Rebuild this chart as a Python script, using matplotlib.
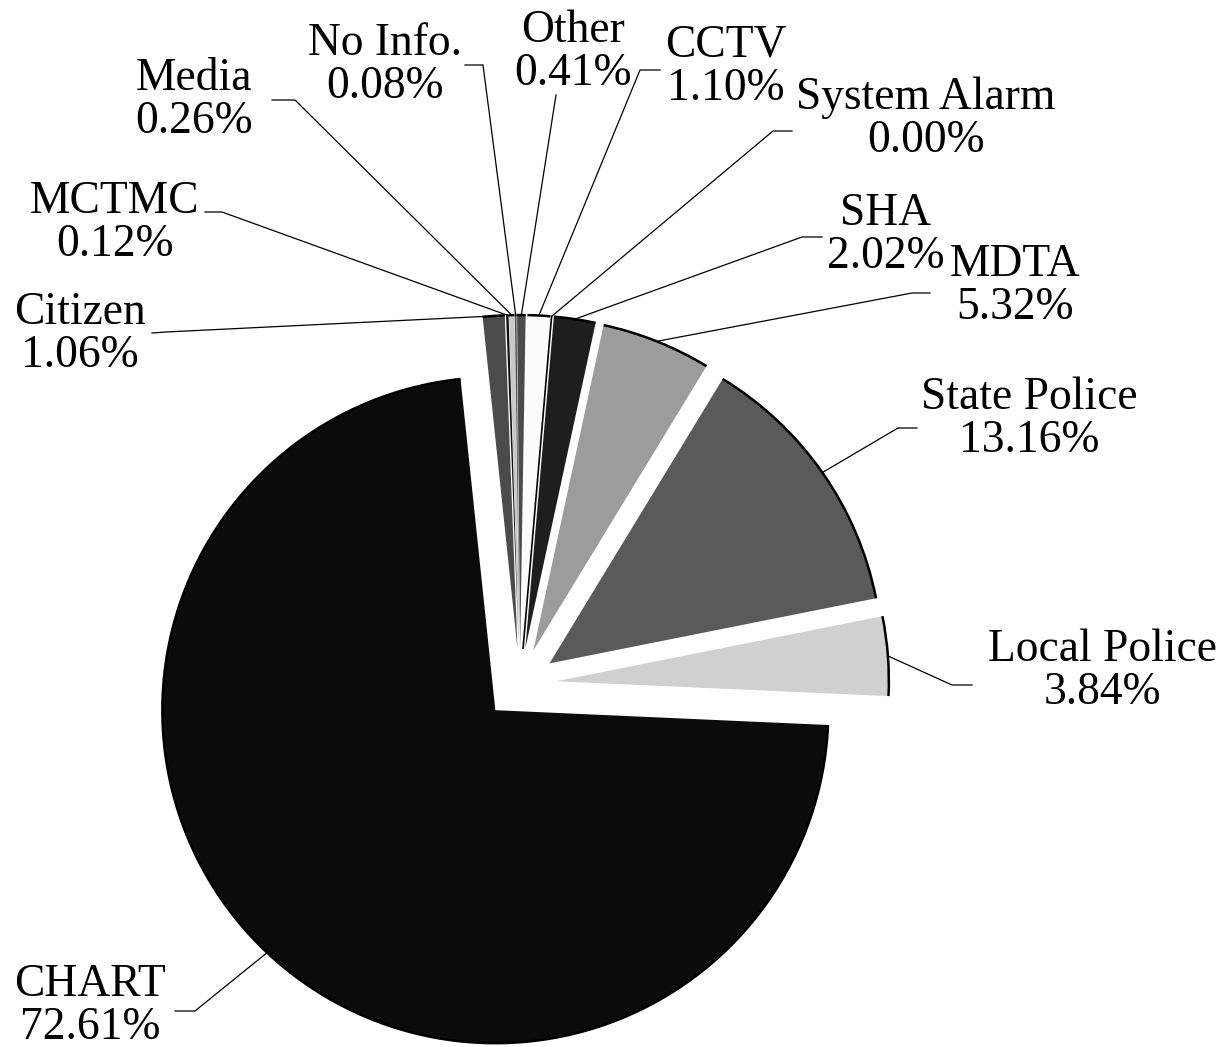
import math
import matplotlib
matplotlib.use("Agg")
import matplotlib.pyplot as plt
from matplotlib.patches import Arc

# Datos (porcentajes), en el orden del gráfico (sentido horario)
categorias = ["Citizen", "MCTMC", "Media", "No Info.", "Other", "CCTV",
              "System Alarm", "SHA", "MDTA", "State Police", "Local Police", "CHART"]
porcentajes = [1.06, 0.12, 0.26, 0.08, 0.41, 1.10, 0.00, 2.02, 5.32, 13.16, 3.84, 72.61]
colores = ["#4b4b4b", "#111111", "#c8c8c8", "#4b4b4b", "#4b4b4b", "#fbfbfb",
           "#000000", "#1e1e1e", "#9c9c9c", "#5a5a5a", "#d0d0d0", "#0b0b0b"]

# Posición de etiquetas en píxeles (centro del texto, fin de la línea, codo)
pos_texto = {
    "Citizen": (80, 334), "MCTMC": (115, 223), "Media": (194, 100),
    "No Info.": (385, 65), "Other": (573, 52), "CCTV": (726, 67),
    "System Alarm": (926, 119), "SHA": (886, 235), "MDTA": (1015, 286),
    "State Police": (1029, 419), "Local Police": (1102, 671), "CHART": (90, 1006),
}
lineas = {
    "Citizen": ((152, 333), (166, 332)), "MCTMC": ((205, 212), (222, 212)),
    "Media": ((272, 100), (295, 100)), "No Info.": ((465, 65), (483, 65)),
    "Other": ((556, 95), (556, 95)), "CCTV": ((660, 70), (640, 70)),
    "System Alarm": ((792, 131), (773, 131)), "SHA": ((822, 237), (802, 237)),
    "MDTA": ((930, 293), (912, 293)), "State Police": ((917, 428), (898, 428)),
    "Local Police": ((972, 685), (952, 685)), "CHART": ((175, 1011), (195, 1011)),
}

W, H = 1224, 1047
CX, CY, R = 520, 684, 333  # centro y radio del pie en píxeles


def px(x, y):
    # píxeles de imagen -> unidades de datos (radio = 1)
    return (x - CX) / R, (CY - y) / R


fig = plt.figure(figsize=(W / 100, H / 100), dpi=100)
ax = fig.add_axes([0, 0, 1, 1])

wedges, _ = ax.pie(porcentajes, colors=colores, startangle=96, counterclock=False,
                   explode=[0.108] * len(porcentajes), radius=1,
                   wedgeprops=dict(edgecolor="none"))

# pie() fija sus propios límites: se reemplazan por los del lienzo en píxeles
ax.set_xlim(px(0, 0)[0], px(W, 0)[0])
ax.set_ylim(px(0, H)[1], px(0, 0)[1])
ax.axis("off")

for w, nombre, pct in zip(wedges, categorias, porcentajes):
    cx, cy = w.center
    # borde exterior del sector
    if pct > 0:
        ax.add_patch(Arc((cx, cy), 2, 2, theta1=w.theta1, theta2=w.theta2,
                         color="black", lw=1.8))
    else:
        t = math.radians(w.theta1)
        ax.plot([cx, cx + math.cos(t)], [cy, cy + math.sin(t)], color="black", lw=1.2)
    tm = math.radians((w.theta1 + w.theta2) / 2)
    p0 = (cx + math.cos(tm), cy + math.sin(tm))
    fin, codo = lineas[nombre]
    c = px(*codo)
    f = px(*fin)
    ax.plot([p0[0], c[0], f[0]], [p0[1], c[1], f[1]], color="black", lw=0.9)
    tx, ty = px(*pos_texto[nombre])
    ax.text(tx, ty, f"{nombre}\n{pct:.2f}%", ha="center", va="center",
            multialignment="center", fontsize=32.8, family="Liberation Serif",
            linespacing=1.03)

fig.savefig("out.png", dpi=100)
